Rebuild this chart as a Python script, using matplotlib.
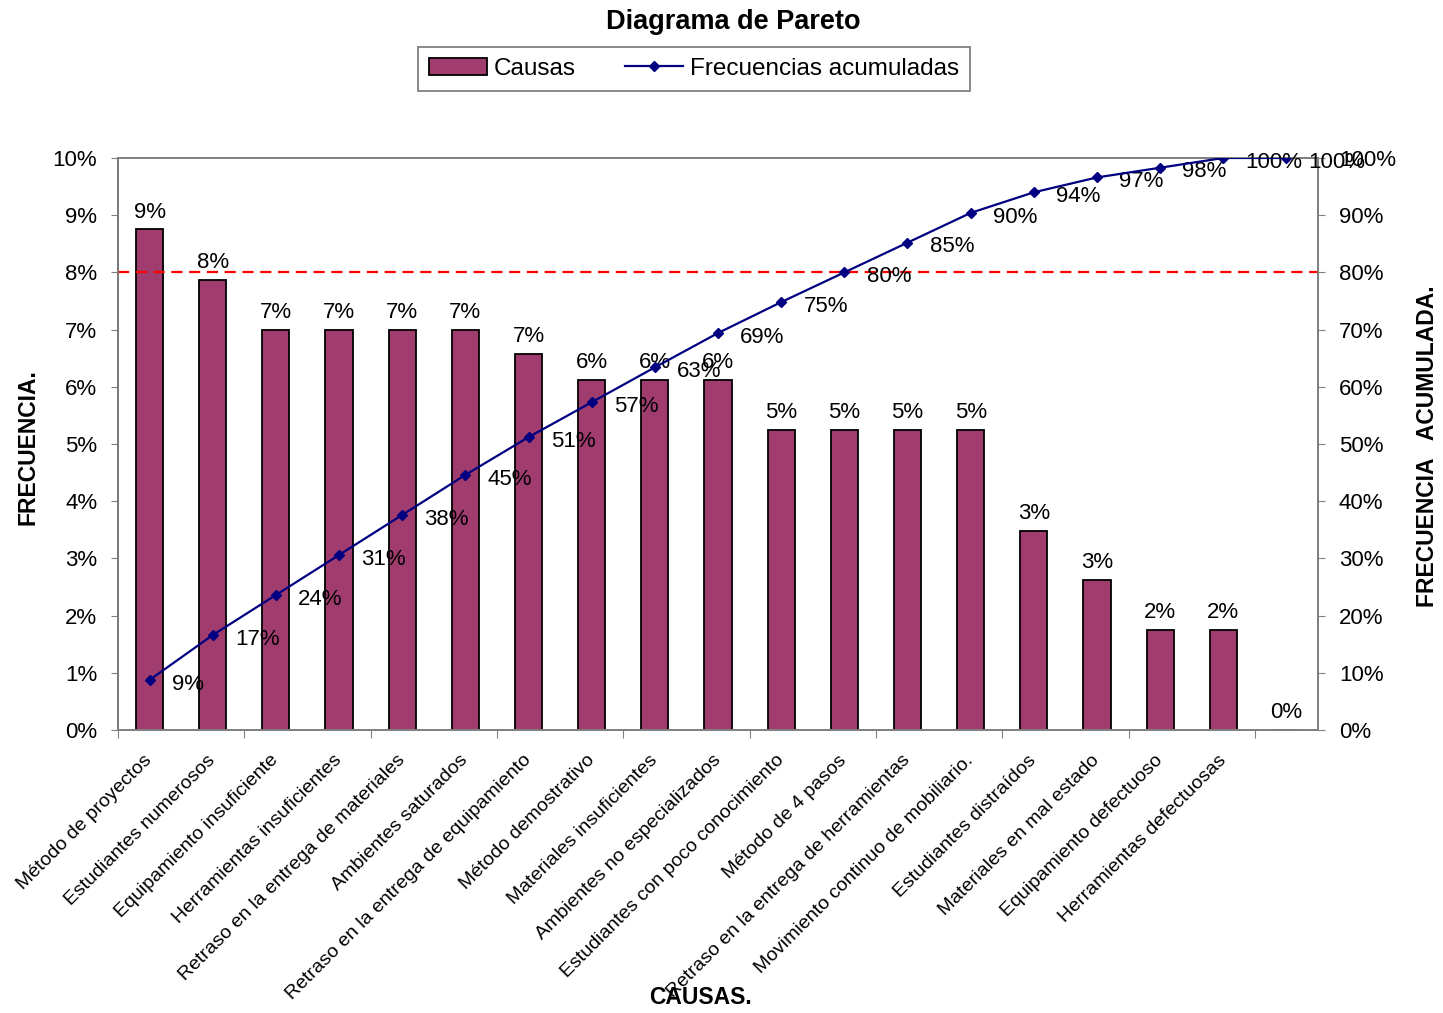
import numpy as np
import matplotlib
matplotlib.use('Agg')
import matplotlib.pyplot as plt
from matplotlib.patches import Patch
from matplotlib.lines import Line2D

plt.rcParams['font.family'] = ['Liberation Sans', 'DejaVu Sans']

causas = ['Método de proyectos', 'Estudiantes numerosos', 'Equipamiento insuficiente',
          'Herramientas insuficientes', 'Retraso en la entrega de materiales',
          'Ambientes saturados', 'Retraso en la entrega de equipamiento',
          'Método demostrativo', 'Materiales insuficientes', 'Ambientes no especializados',
          'Estudiantes con poco conocimiento', 'Método de 4 pasos',
          'Retraso en la entrega de herramientas', 'Movimiento continuo de mobiliario.',
          'Estudiantes distraídos', 'Materiales en mal estado', 'Equipamiento defectuoso',
          'Herramientas defectuosas', '']
frecuencia = [8.75, 7.87, 7.0, 7.0, 7.0, 7.0, 6.58, 6.12, 6.12, 6.12,
              5.25, 5.25, 5.25, 5.25, 3.48, 2.63, 1.75, 1.75, 0.0]
acumulada = [8.75, 16.6, 23.6, 30.6, 37.6, 44.6, 51.2, 57.3, 63.4, 69.4,
             74.8, 80.0, 85.2, 90.4, 94.0, 96.6, 98.3, 100.0, 100.0]
limite = 8.0

bar_color = '#A03C6E'
line_color = '#000080'
axis_gray = '#808080'

W, H = 1443, 1013
fig = plt.figure(figsize=(W / 100, H / 100), dpi=100)
ax1 = fig.add_axes([118 / W, 1 - 730 / H, 1200 / W, 572 / H])
ax2 = ax1.twinx()

x = np.arange(len(causas))
ax1.bar(x, frecuencia, width=0.43, color=bar_color, edgecolor='black', linewidth=1.3, zorder=2)
for xi, v in zip(x, frecuencia):
    ax1.annotate('%.0f%%' % v, (xi, v), xytext=(0, 5), textcoords='offset points',
                 ha='center', va='bottom', fontsize=16)

ax1.axhline(limite, color='red', linestyle=(0, (5, 3)), linewidth=1.6, zorder=5)

ax1.set_xlim(-0.5, len(causas) - 0.5)
ax1.set_ylim(0, 10)
ax1.set_yticks(np.arange(0, 11, 1))
ax1.set_yticklabels(['%d%%' % t for t in range(0, 11)], fontsize=16)

# boundary ticks every two categories, labels at category centers
ax1.set_xticks(np.arange(-0.5, len(causas), 2))
ax1.set_xticklabels([])
ax1.set_xticks(x, minor=True)
ax1.set_xticklabels(causas, minor=True, rotation=45, ha='right', va='center',
                    rotation_mode='anchor', fontsize=14)
ax1.tick_params(axis='x', which='minor', length=0, pad=20)
ax1.tick_params(axis='x', which='major', length=6, color=axis_gray, direction='out')
ax1.tick_params(axis='y', length=5, color=axis_gray, pad=10)

ax2.plot(x, acumulada, color=line_color, linewidth=1.6, marker='D', markersize=5, zorder=4)
for xi, v in zip(x, acumulada):
    ax2.annotate('%.0f%%' % v, (xi, v), xytext=(16, -3), textcoords='offset points',
                 ha='left', va='center', fontsize=16)
ax2.set_ylim(0, 100)
ax2.set_yticks(np.arange(0, 101, 10))
ax2.set_yticklabels(['%d%%' % t for t in range(0, 101, 10)], fontsize=16)
ax2.tick_params(axis='y', length=5, color=axis_gray, pad=10)

for ax in (ax1, ax2):
    for s in ax.spines.values():
        s.set_color(axis_gray)
        s.set_linewidth(1.3)
ax1.spines['left'].set_color('#404040')

fig.text(733 / W, 1 - 22 / H, 'Diagrama de Pareto', ha='center', va='center',
         fontsize=19.5, fontweight='bold')
fig.text(28 / W, 1 - 447 / H, 'FRECUENCIA.', rotation=90, ha='center', va='center',
         fontsize=16.5, fontweight='bold')
fig.text(1428 / W, 1 - 446 / H, 'FRECUENCIA   ACUMULADA.', rotation=90, ha='center',
         va='center', fontsize=16.5, fontweight='bold')
fig.text(700 / W, 1 - 997 / H, 'CAUSAS.', ha='center', va='center',
         fontsize=16.5, fontweight='bold')

handles = [Patch(facecolor=bar_color, edgecolor='black', linewidth=1.3),
           Line2D([], [], color=line_color, marker='D', markersize=5, linewidth=1.6)]
leg = fig.legend(handles, ['Causas', 'Frecuencias acumuladas'], loc='upper center',
                 bbox_to_anchor=(694 / W, 1 - 47 / H), borderaxespad=0, ncol=2,
                 fontsize=17.5, fancybox=False, framealpha=1, edgecolor=axis_gray,
                 handlelength=2.4, handletextpad=0.3, columnspacing=2.0, borderpad=0.45)
leg.get_frame().set_linewidth(1.3)

fig.savefig('out.png', dpi=100)
